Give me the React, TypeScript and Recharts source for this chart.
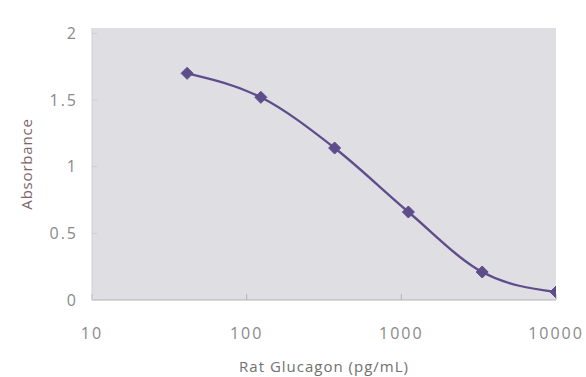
import { LineChart, Line, XAxis, YAxis, ReferenceArea } from 'recharts';

// Rat glucagon standard curve (log x axis)
const concentrations = [41.2, 123.5, 370.4, 1111, 3333, 10000];
const absorbance = [1.70, 1.52, 1.14, 0.66, 0.21, 0.06];
const xTicks = [10, 100, 1000, 10000];
const yTicks = [0, 0.5, 1, 1.5, 2];

const data = concentrations.map((c, i) => ({ conc: c, abs: absorbance[i] }));

const LINE = '#5d4d8b';
const TICK_FONT = { fontFamily: '"Open Sans", sans-serif', fontSize: 16, fill: '#8a8a8a', letterSpacing: 2 };

function Diamond(props: any) {
  const { cx, cy } = props;
  if (cx == null || cy == null) return null;
  const r = 6;
  return (
    <polygon
      points={`${cx},${cy - r} ${cx + r},${cy} ${cx},${cy + r} ${cx - r},${cy}`}
      fill={LINE}
      stroke={LINE}
      strokeWidth={1}
    />
  );
}

export default function App() {
  return (
    <div style={{ position: 'fixed', left: 0, top: 0, width: 586, height: 377, background: '#fff' }}>
      <LineChart width={586} height={377} data={data} margin={{ top: 28, right: 30, bottom: 0, left: 0 }}>
        <ReferenceArea x1={10} x2={10000} y1={0} y2={2.04} fill="#dfdee3" fillOpacity={1} stroke="none" ifOverflow="hidden" />
        <XAxis
          dataKey="conc"
          type="number"
          scale="log"
          domain={[10, 10000]}
          ticks={xTicks}
          allowDataOverflow
          height={77}
          stroke="#b4b3b8"
          tickSize={-6}
          tickMargin={34}
          tick={TICK_FONT}
          label={{
            value: 'Rat Glucagon (pg/mL)',
            position: 'insideBottom',
            offset: 5,
            style: { fontFamily: '"Open Sans", sans-serif', fontSize: 15, fill: '#707070', letterSpacing: 1 },
          }}
        />
        <YAxis
          dataKey="abs"
          type="number"
          domain={[0, 2.04]}
          ticks={yTicks}
          allowDataOverflow
          width={92}
          stroke="#cfced3"
          tickSize={-5}
          tickMargin={19}
          tick={TICK_FONT}
          label={{
            value: 'Absorbance',
            angle: -90,
            position: 'insideLeft',
            offset: 27,
            style: { textAnchor: 'middle', fontFamily: '"Open Sans", sans-serif', fontSize: 15, fill: '#7e6569', letterSpacing: 0.8 },
          }}
        />
        <Line
          type="monotone"
          dataKey="abs"
          stroke={LINE}
          strokeWidth={2.3}
          dot={<Diamond />}
          activeDot={false}
          isAnimationActive={false}
        />
      </LineChart>
    </div>
  );
}
